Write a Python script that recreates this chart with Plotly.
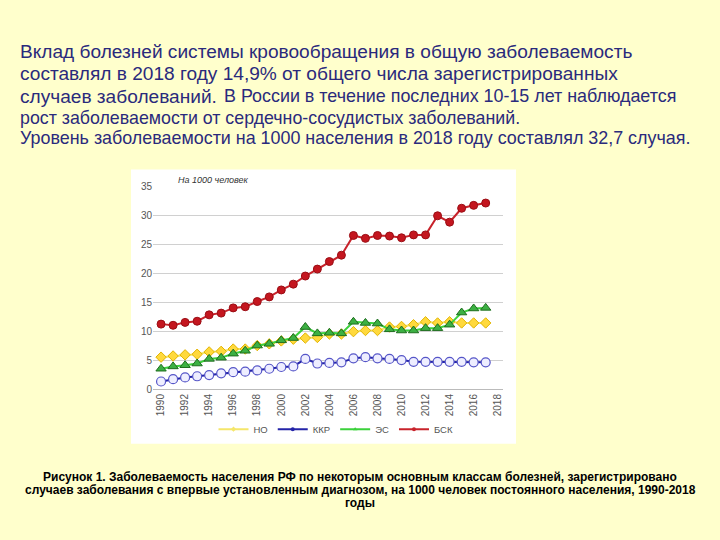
import plotly.graph_objects as go

# Данные: заболеваемость на 1000 человек, 1990-2017
years = list(range(1990, 2018))
no = [5.5, 5.7, 5.9, 6.0, 6.4, 6.5, 6.9, 6.9, 7.5, 7.8, 8.3, 8.6, 8.8, 8.9, 9.5, 9.5,
      9.9, 10.1, 10.1, 10.7, 10.8, 11.1, 11.6, 11.4, 11.6, 11.4, 11.4, 11.4]
kkr = [1.3, 1.7, 2.0, 2.2, 2.4, 2.7, 2.9, 3.0, 3.2, 3.5, 3.8, 3.9, 5.2, 4.4, 4.5, 4.6,
       5.3, 5.5, 5.3, 5.2, 5.0, 4.7, 4.7, 4.7, 4.7, 4.7, 4.6, 4.6]
es = [3.5, 3.9, 4.1, 4.4, 5.2, 5.4, 6.1, 6.6, 7.5, 7.8, 8.4, 8.8, 10.7, 9.6, 9.7, 9.6,
      11.6, 11.4, 11.3, 10.3, 10.1, 10.1, 10.5, 10.5, 11.1, 13.2, 13.9, 14.0]
bsk = [11.2, 11.0, 11.5, 11.7, 12.8, 13.1, 14.0, 14.2, 15.1, 15.9, 17.1, 18.1, 19.5, 20.7,
       22.0, 23.1, 26.5, 26.0, 26.5, 26.4, 26.1, 26.6, 26.6, 29.9, 28.8, 31.2, 31.7, 32.1]
x_ticks = list(range(1990, 2019, 2))
y_ticks = [0, 5, 10, 15, 20, 25, 30, 35]

W, H = 720, 540
def px(x):
    return x / W
def py(y):
    return 1 - y / H

series = [
    ('НО', no, '#F5E66A', dict(symbol='diamond', size=8, color='#FFD93D', line=dict(color='#E2B400', width=1))),
    ('ККР', kkr, '#2424A8', dict(symbol='circle', size=9, color='#EEEEFF', line=dict(color='#5555C8', width=1.2))),
    ('ЭС', es, '#3BD13B', dict(symbol='triangle-up', size=9, color='#3CB043', line=dict(color='#1E6E1E', width=1))),
    ('БСК', bsk, '#C8232B', dict(symbol='circle', size=8, color='#C4161F', line=dict(color='#9A0E15', width=1))),
]

fig = go.Figure()
for name, vals, lc, mk in series:
    fig.add_trace(go.Scatter(x=years, y=vals, name=name, mode='lines+markers',
                             line=dict(color=lc, width=2), marker=mk,
                             cliponaxis=False, showlegend=False))
# легенда с маленькими маркерами
for name, vals, lc, mk in series:
    fig.add_trace(go.Scatter(x=[None], y=[None], name=name, mode='lines+markers',
                             line=dict(color=lc, width=2),
                             marker=dict(symbol=mk['symbol'], size=4, color=lc)))

# белая подложка под графиком
fig.add_shape(type='rect', xref='paper', yref='paper',
              x0=px(131), x1=px(516), y0=py(448), y1=py(168),
              fillcolor='white', line=dict(width=0), layer='below')

title_color = '#2A2A7C'
title_parts = [
    (18, 47, 19.1, 'Вклад болезней системы кровообращения в общую заболеваемость'),
    (18, 70, 19.1, 'составлял в 2018 году 14,9% от общего числа зарегистрированных'),
    (18, 93, 19.1, 'случаев заболеваний.'),
    (222, 93, 17.9, 'В России в течение последних 10-15 лет наблюдается'),
    (18, 115, 17.8, 'рост заболеваемости от сердечно-сосудистых заболеваний.'),
    (18, 136, 17.9, 'Уровень заболеваемости на 1000 населения в 2018 году составлял 32,7 случая.'),
]
for x, y, size, txt in title_parts:
    fig.add_annotation(x=px(x), y=py(y), xref='paper', yref='paper', text=txt,
                       showarrow=False, xanchor='left', yanchor='middle',
                       font=dict(size=size, color=title_color, family='Liberation Sans, Arial'))

fig.add_annotation(x=px(176), y=py(179), xref='paper', yref='paper',
                   text='<i>На 1000 человек</i>', showarrow=False,
                   xanchor='left', yanchor='middle',
                   font=dict(size=9, color='#333333', family='Liberation Sans, Arial'))

caption_lines = [
    (482, 'Рисунок 1. Заболеваемость населения РФ по некоторым основным классам болезней, зарегистрировано'),
    (495, 'случаев заболевания с впервые установленным диагнозом, на 1000 человек постоянного населения, 1990-2018'),
    (508, 'годы'),
]
for y, txt in caption_lines:
    fig.add_annotation(x=px(360), y=py(y), xref='paper', yref='paper', text='<b>%s</b>' % txt,
                       showarrow=False, xanchor='center', yanchor='middle',
                       font=dict(size=12, color='black', family='Liberation Sans, Arial'))

fig.update_layout(
    width=W, height=H,
    margin=dict(l=0, r=0, t=0, b=0),
    paper_bgcolor='#FFFFCC',
    plot_bgcolor='white',
    font=dict(family='Liberation Sans, Arial', color='#444444', size=10),
    showlegend=True,
    legend=dict(orientation='h', x=px(336), y=py(433), xanchor='center', yanchor='middle',
                bgcolor='rgba(0,0,0,0)', font=dict(size=9.5, color='#555555'),
                itemwidth=30, tracegroupgap=0),
    xaxis=dict(domain=[px(153), px(503)], range=[1989.33, 2018.44],
               tickvals=x_ticks, tickangle=-90, showgrid=False, zeroline=False,
               showline=True, linecolor='#BBBBBB', ticks='', tickfont=dict(size=10, color='#555555')),
    yaxis=dict(domain=[py(392), py(185)], range=[0, 35], tickvals=y_ticks,
               showgrid=True, gridcolor='#D0D0D0', zeroline=False, ticks='',
               tickfont=dict(size=10, color='#555555')),
)

fig.write_html("out.html", config={'displayModeBar': False},
               post_script="document.body.style.margin='0';")
